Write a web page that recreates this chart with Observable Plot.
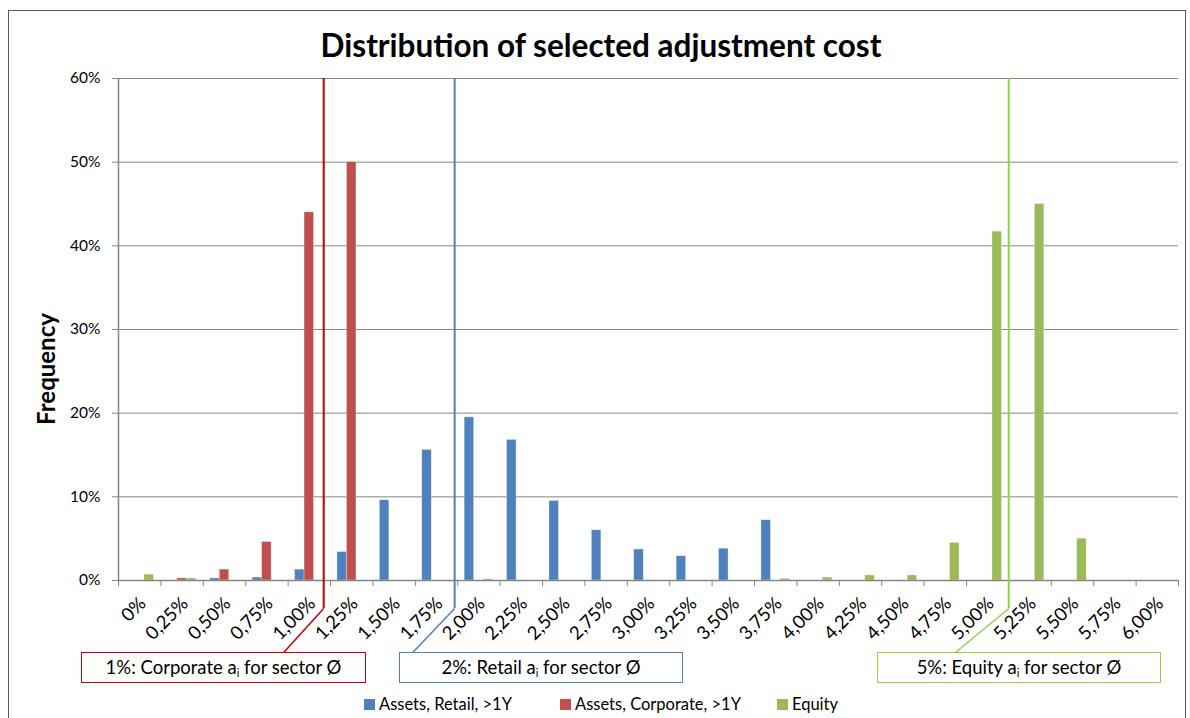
<!DOCTYPE html>
<html><head><meta charset="utf-8">
<script src="https://cdn.jsdelivr.net/npm/d3@7"></script>
<script src="https://cdn.jsdelivr.net/npm/@observablehq/plot@0.6"></script>
<style>
body{margin:0;background:#fff;font-family:Lato,"Open Sans",sans-serif;color:#000;}
#wrap{position:relative;width:1190px;height:718px;overflow:hidden;}
#frame{position:absolute;left:8px;top:10px;width:1178px;height:740px;border:1px solid #595959;box-sizing:border-box;}
#chart{position:absolute;left:0;top:0;}
#title{position:absolute;left:0;width:1202px;top:28px;text-align:center;font-weight:bold;font-size:31.5px;line-height:34px;}
#ylab{position:absolute;left:45px;top:369px;transform:translate(-50%,-50%) rotate(-90deg);font-weight:bold;font-size:24px;white-space:nowrap;}
.box{position:absolute;top:652px;height:31px;box-sizing:border-box;border:1.5px solid;background:#fff;font-size:18.5px;text-align:center;line-height:28px;white-space:nowrap;}
.box sub{font-size:11px;vertical-align:-3px;line-height:0;}
.lg{position:absolute;top:694px;font-size:16.5px;white-space:nowrap;line-height:20px;}
.lg span.sw{position:absolute;left:-15px;top:5px;width:11px;height:11px;}
</style></head>
<body>
<div id="wrap">
  <div id="frame"></div>
  <div id="chart"></div>
  <div id="title">Distribution of selected adjustment cost</div>
  <div id="ylab">Frequency</div>
  <div id="boxes"></div>
  <div id="legend"></div>
</div>
<script>
// categories (bin centres, in %) and their tick labels
const bins = [0,0.25,0.5,0.75,1,1.25,1.5,1.75,2,2.25,2.5,2.75,3,3.25,3.5,3.75,4,4.25,4.5,4.75,5,5.25,5.5,5.75,6];
const xLabels = ["0%","0,25%","0,50%","0,75%","1,00%","1,25%","1,50%","1,75%","2,00%","2,25%","2,50%","2,75%","3,00%","3,25%","3,50%","3,75%","4,00%","4,25%","4,50%","4,75%","5,00%","5,25%","5,50%","5,75%","6,00%"];
// frequencies in %
const retail    = [0,0,0.25,0.35,1.3,3.4,9.6,15.6,19.5,16.8,9.5,6.0,3.7,2.9,3.8,7.2,0,0,0,0,0,0,0,0,0];
const corporate = [0,0.25,1.3,4.6,44,50,0,0,0,0,0,0,0,0,0,0,0,0,0,0,0,0,0,0,0];
const equity    = [0.7,0.25,0,0,0,0,0,0,0.15,0,0,0,0,0,0,0.2,0.35,0.6,0.6,4.5,41.7,45,5.0,0,0];
const seriesNames = ["Assets, Retail, >1Y","Assets, Corporate, >1Y","Equity"];
const seriesColors = ["#4F81BD","#C0504D","#9BBB59"];
const yTicks = [0,10,20,30,40,50,60];
// annotation markers (position on the adjustment-cost axis, in %)
const annoLabels = ["1%: Corporate a<sub>i</sub> for sector Ø","2%: Retail a<sub>i</sub> for sector Ø","5%: Equity a<sub>i</sub> for sector Ø"];
const annoAt  = [1.085, 1.857, 5.124];
const annoEnd = [0.849, 1.610, 4.811];
const annoColors = ["#C00000","#4F81BD","#92D050"];

const barW = 0.056; // bar width in axis units
const rows = [];
[retail, corporate, equity].forEach((vals, k) => {
  vals.forEach((v, i) => rows.push({series: seriesNames[k], x1: bins[i] + (k - 1.5) * barW, x2: bins[i] + (k - 0.5) * barW, v}));
});
const edges = bins.map(b => b - 0.125).concat([bins[bins.length - 1] + 0.125]);
const annos = annoAt.map((x, i) => ({x, x2: annoEnd[i], color: annoColors[i]}));
const lineBottom = -3.35, boxTop = -8.6;

const chart = Plot.plot({
  width: 1190, height: 718,
  marginLeft: 118, marginRight: 12, marginTop: 78, marginBottom: 138,
  style: {fontFamily: "Lato, 'Open Sans', sans-serif", fontSize: "15px", color: "#000", overflow: "visible", background: "transparent"},
  x: {domain: [edges[0], edges[edges.length - 1]]},
  y: {domain: [0, 60]},
  color: {domain: seriesNames, range: seriesColors},
  marks: [
    Plot.gridY(yTicks, {stroke: "#868686", strokeOpacity: 1}),
    Plot.rectY(rows, {x1: "x1", x2: "x2", y: "v", fill: "series", stroke: "#fff", strokeOpacity: 0.5, strokeWidth: 0.6}),
    Plot.ruleY([0], {stroke: "#868686", strokeWidth: 1.5}),
    Plot.ruleX([edges[0]], {stroke: "#868686", strokeWidth: 1.5}),
    Plot.axisY(yTicks, {tickFormat: d => d + "%", tickSize: 6, tickPadding: 12, stroke: "#868686", fill: "#000", fontSize: 15.5, label: null}),
    Plot.axisX(edges, {tickSize: 6, tickFormat: () => "", stroke: "#868686", label: null}),
    Plot.axisX(bins, {tickSize: 0, tickPadding: 20, dx: 3, tickRotate: -45, tickFormat: d => xLabels[bins.indexOf(d)], fill: "#000", fontSize: 18.5, label: null}),
    Plot.ruleX(annos, {x: "x", y1: 60, y2: lineBottom, stroke: "color", strokeWidth: 2}),
    Plot.link(annos, {x1: "x", y1: lineBottom, x2: "x2", y2: boxTop, stroke: "color", strokeWidth: 1.5})
  ]
});
document.getElementById("chart").appendChild(chart);

// annotation boxes
const boxPos = [[81, 285], [399, 284], [877, 284]];
const boxes = document.getElementById("boxes");
annoLabels.forEach((t, i) => {
  const d = document.createElement("div");
  d.className = "box";
  d.style.left = boxPos[i][0] + "px";
  d.style.width = boxPos[i][1] + "px";
  d.style.borderColor = annoColors[i];
  d.innerHTML = t;
  boxes.appendChild(d);
});
// legend
const legendLeft = [379, 575, 792];
const lg = document.getElementById("legend");
seriesNames.forEach((n, i) => {
  const s = document.createElement("div");
  s.className = "lg";
  s.style.left = legendLeft[i] + "px";
  s.innerHTML = `<span class="sw" style="background:${seriesColors[i]}"></span>${n}`;
  lg.appendChild(s);
});
</script>
</body></html>
